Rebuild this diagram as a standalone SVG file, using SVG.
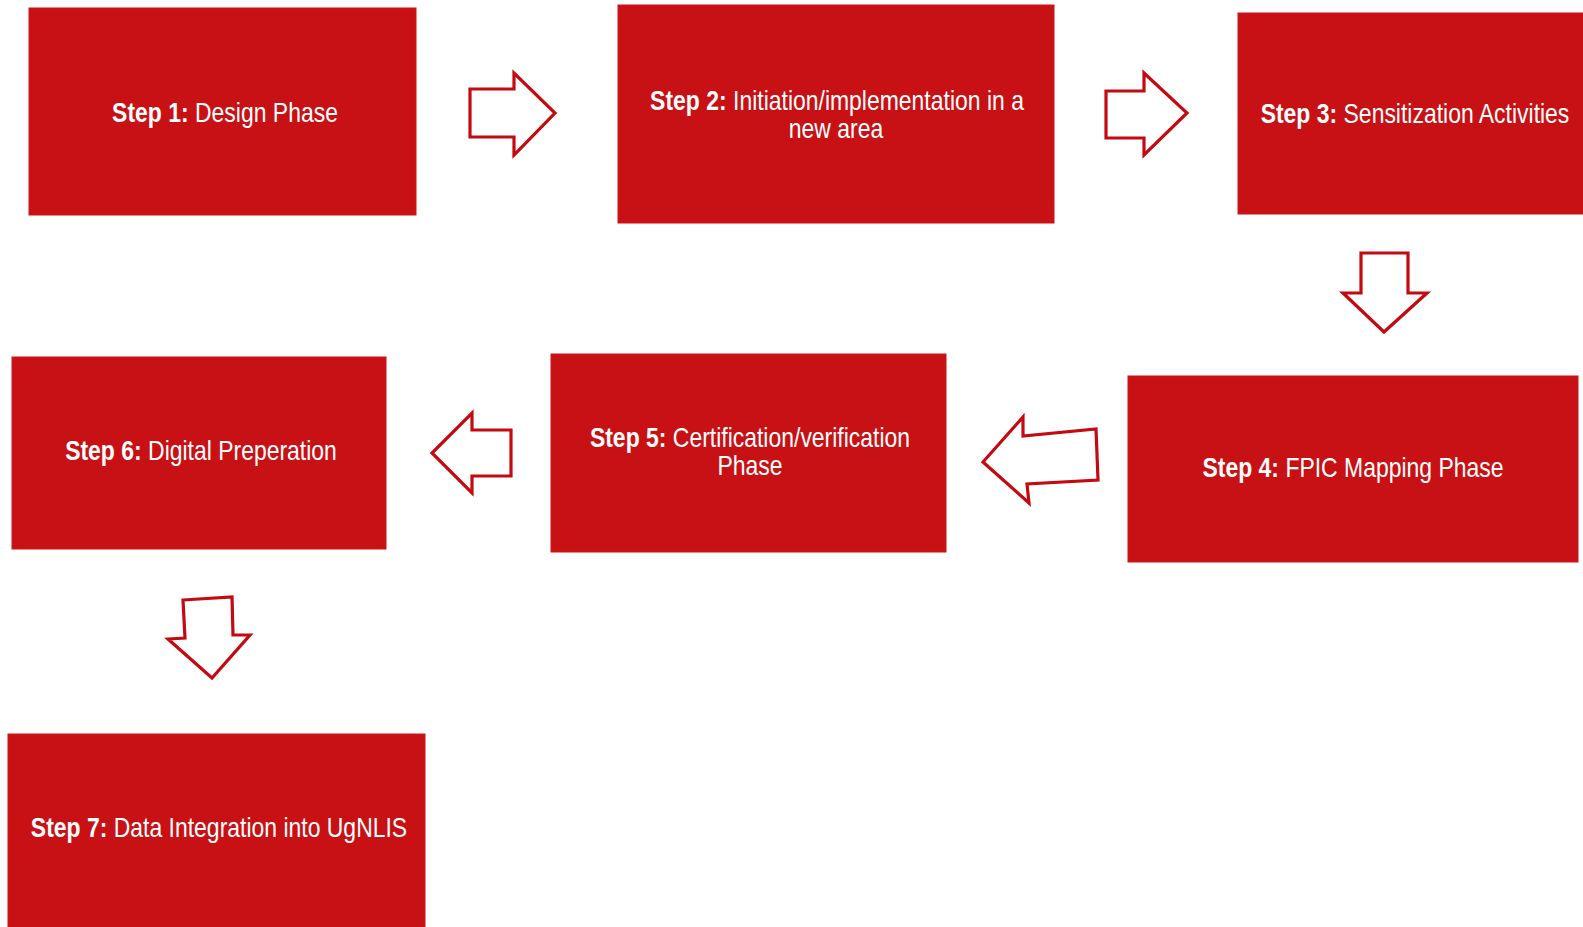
<svg xmlns="http://www.w3.org/2000/svg" width="1583" height="927" viewBox="0 0 1583 927">
  <style>
    .box { fill: #c81114; stroke: #cf1517; stroke-width: 1; }
    .lbl { font-family: "Liberation Sans", Arial, sans-serif; font-size: 28px; fill: #ffffff; text-anchor: middle; }
    .b { font-weight: bold; }
    .arrow { fill: #ffffff; stroke: #c40a10; stroke-width: 3.2; stroke-linejoin: miter; }
  </style>
  <rect x="0" y="0" width="1583" height="927" fill="#ffffff"/>

  <!-- process steps -->
  <g id="step1">
    <rect class="box" x="29" y="8" width="387" height="207"/>
    <text class="lbl" transform="translate(225,122) scale(0.82,1)"><tspan class="b">Step 1:</tspan> Design Phase</text>
  </g>
  <g id="step2">
    <rect class="box" x="618" y="5" width="436" height="218"/>
    <text class="lbl" transform="translate(837,110) scale(0.82,1)"><tspan class="b">Step 2:</tspan> Initiation/implementation in a</text>
    <text class="lbl" transform="translate(836,138) scale(0.82,1)">new area</text>
  </g>
  <g id="step3">
    <rect class="box" x="1238" y="13" width="350" height="201"/>
    <text class="lbl" transform="translate(1415,123) scale(0.82,1)"><tspan class="b">Step 3:</tspan> Sensitization Activities</text>
  </g>
  <g id="step4">
    <rect class="box" x="1128" y="376" width="450" height="186"/>
    <text class="lbl" transform="translate(1353,477) scale(0.82,1)"><tspan class="b">Step 4:</tspan> FPIC Mapping Phase</text>
  </g>
  <g id="step5">
    <rect class="box" x="551" y="354" width="395" height="198"/>
    <text class="lbl" transform="translate(750,447) scale(0.82,1)"><tspan class="b">Step 5:</tspan> Certification/verification</text>
    <text class="lbl" transform="translate(750,475) scale(0.82,1)">Phase</text>
  </g>
  <g id="step6">
    <rect class="box" x="12" y="357" width="374" height="192"/>
    <text class="lbl" transform="translate(201,460) scale(0.82,1)"><tspan class="b">Step 6:</tspan> Digital Preperation</text>
  </g>
  <g id="step7">
    <rect class="box" x="8" y="734" width="417" height="200"/>
    <text class="lbl" transform="translate(219,837) scale(0.82,1)"><tspan class="b">Step 7:</tspan> Data Integration into UgNLIS</text>
  </g>

  <!-- block arrows between steps -->
  <g id="connectors">
    <polygon class="arrow" points="470,89 514,89 514,73 555,113 514,155 514,137 470,137"/>
    <polygon class="arrow" points="1106,91 1144,91 1144,73 1187,113 1144,155 1144,138 1106,138"/>
    <polygon class="arrow" points="1361,253 1408,253 1408,293 1427,293 1384,332 1343,293 1361,293"/>
    <polygon class="arrow" points="1096,429 1098,480 1027,484 1029,503 983,462 1023,417 1023,436"/>
    <polygon class="arrow" points="511,430 511,476 472,476 472,493 432,453 472,413 472,430"/>
    <polygon class="arrow" points="183,600 232,597 233,635 250,635 212,678 168,639 185,638"/>
  </g>
</svg>
